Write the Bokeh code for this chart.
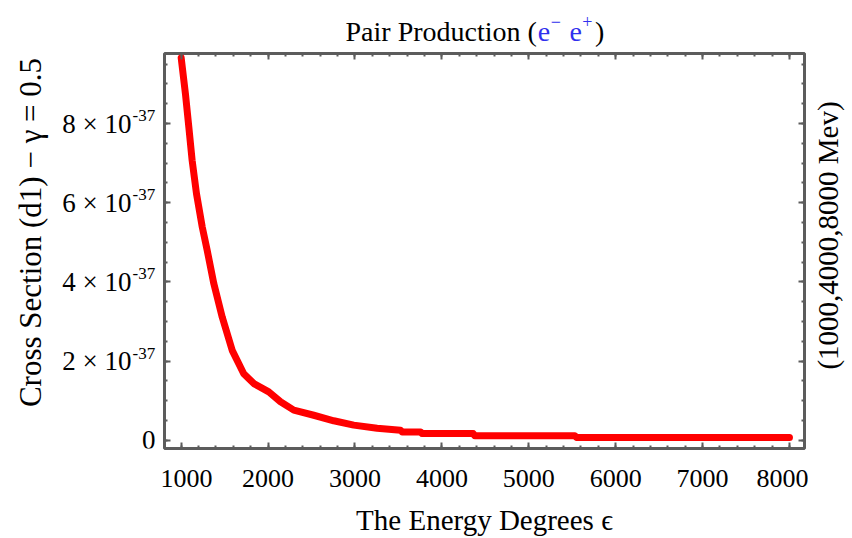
import math
from bokeh.plotting import figure
from bokeh.models import Range1d, FixedTicker, LinearAxis, Label
from bokeh.layouts import column, row
from bokeh.embed import file_html
from bokeh.resources import INLINE

# ---- data (cross section in units of 1e-37) ----
energy = [1000, 1049, 1088, 1126, 1176, 1242, 1299, 1375, 1472, 1587, 1720, 1836,
          2008, 2143, 2296, 2526, 2756, 2986, 3255, 3524, 3543, 3754, 3770,
          4360, 4380, 5530, 5550, 8000]
cross_section = [9.66, 8.75, 7.91, 7.07, 6.23, 5.39, 4.80, 3.96, 3.11, 2.27, 1.68, 1.43,
                 1.22, 0.97, 0.76, 0.63, 0.49, 0.38, 0.30, 0.25, 0.21, 0.21, 0.17,
                 0.17, 0.11, 0.11, 0.07, 0.07]

x_ticks = [1000, 2000, 3000, 4000, 5000, 6000, 7000, 8000]
x_minor = list(range(800, 8201, 200))
y_ticks = [0, 2, 4, 6, 8]
y_tick_mantissa = ["0", "2", "4", "6", "8"]
y_tick_exponent = "-37"
y_minor = [i * 0.5 for i in range(0, 20)]

title_main = "Pair Production ("
x_label = "The Energy Degrees \u03f5"
y_label = "Cross Section (d1) \u2212 \u03b3 = 0.5"
right_label = "(1000,4000,8000 Mev)"

FONT = "Liberation Serif"
XR = (808, 8173)
YR = (-0.21, 9.77)

TOTAL_W = 852
FRAME_TOP_PAGE = 53
FRAME_W, FRAME_H = 640, 395
LEFT_W = 160
MAIN_MBL, MAIN_MBR = 4, 4
MAIN_W = MAIN_MBL + FRAME_W + MAIN_MBR
RIGHT_W = TOTAL_W - LEFT_W - MAIN_W
FULL_H = 538
MB_BOTTOM = FULL_H - FRAME_TOP_PAGE - FRAME_H
TITLE_H = 50
MAIN_MBT = FRAME_TOP_PAGE - TITLE_H
MAIN_H = FULL_H - TITLE_H


def cy(page_y):
    return YR[1] - (page_y - FRAME_TOP_PAGE) / FRAME_H * (YR[1] - YR[0])


def blank_fig(w, h, xr, yr, mbt=0, mbb=0):
    f = figure(width=w, height=h, output_backend="svg", toolbar_location=None,
               tools="", x_range=xr, y_range=yr,
               x_axis_location=None, y_axis_location=None,
               min_border_left=0, min_border_right=0,
               min_border_top=mbt, min_border_bottom=mbb)
    f.grid.visible = False
    f.outline_line_color = None
    f.background_fill_color = "white"
    f.border_fill_color = "white"
    return f


def lab(fig, x, y, text, size, color="black", align="left", baseline="alphabetic",
        angle=0.0, y_offset=0):
    fig.add_layout(Label(x=x, y=y, text=text, text_font=FONT,
                         text_font_size=f"{size}px", text_color=color,
                         text_align=align, text_baseline=baseline,
                         angle=angle, y_offset=y_offset))


# ---- main plot ----
p = figure(width=MAIN_W, height=MAIN_H, output_backend="svg", toolbar_location=None,
           tools="", x_range=Range1d(*XR), y_range=Range1d(*YR),
           min_border_left=MAIN_MBL, min_border_right=MAIN_MBR,
           min_border_top=MAIN_MBT, min_border_bottom=MB_BOTTOM)
p.grid.visible = False
p.outline_line_color = "#5c5c5c"
p.outline_line_width = 3
p.background_fill_color = "white"
p.border_fill_color = "white"

p.line(energy, cross_section, line_color="#ff0000", line_width=7,
       line_join="round", line_cap="round")


def style_axis(ax, ticks, minor, show_labels):
    ax.ticker = FixedTicker(ticks=ticks, minor_ticks=minor)
    ax.axis_line_color = None
    ax.major_tick_in = 6
    ax.major_tick_out = 0
    ax.minor_tick_in = 3
    ax.minor_tick_out = 0
    ax.major_tick_line_color = "#5c5c5c"
    ax.minor_tick_line_color = "#5c5c5c"
    ax.major_tick_line_width = 2
    ax.minor_tick_line_width = 2
    if show_labels:
        ax.major_label_text_font = FONT
        ax.major_label_text_font_size = "26px"
        ax.major_label_text_color = "black"
        ax.major_label_standoff = 21
    else:
        ax.major_label_overrides = {t: "" for t in ticks}
        ax.major_label_text_font_size = "1px"
        ax.major_label_standoff = 0


style_axis(p.xaxis[0], x_ticks, x_minor, True)
p.xaxis[0].axis_label = x_label
p.xaxis[0].axis_label_text_font = FONT
p.xaxis[0].axis_label_text_font_size = "29px"
p.xaxis[0].axis_label_text_font_style = "normal"
p.xaxis[0].axis_label_text_color = "black"
p.xaxis[0].axis_label_standoff = 14
style_axis(p.yaxis[0], y_ticks, y_minor, False)
top = LinearAxis()
style_axis(top, x_ticks, x_minor, False)
p.add_layout(top, "above")
right = LinearAxis()
style_axis(right, y_ticks, y_minor, False)
p.add_layout(right, "right")

# ---- left strip: full-height column with y tick labels and y title ----
left = blank_fig(LEFT_W, FULL_H, Range1d(0, LEFT_W), p.y_range, FRAME_TOP_PAGE, MB_BOTTOM)
for t, m in zip(y_ticks, y_tick_mantissa):
    if m == "0":
        lab(left, 155, t, m, 27, align="right", baseline="middle")
    else:
        lab(left, 131, t, f"{m} \u00d7 10", 27, align="right", baseline="middle")
        lab(left, 132, t, y_tick_exponent, 17, align="left", baseline="middle", y_offset=8)
lab(left, 30, cy(232), y_label, 31, align="center", baseline="middle", angle=math.pi / 2)

# ---- right strip: energy list ----
rightf = blank_fig(RIGHT_W, FULL_H, Range1d(0, RIGHT_W), p.y_range, FRAME_TOP_PAGE, MB_BOTTOM)
lab(rightf, 19, cy(235), right_label, 29, align="center", baseline="middle", angle=math.pi / 2)

# ---- title strip above the plot (x measured from page left) ----
BLUE = "#3030ee"
TB = TITLE_H - 31
tf = blank_fig(MAIN_W, TITLE_H, Range1d(LEFT_W, LEFT_W + MAIN_W), Range1d(0, TITLE_H))
lab(tf, 537, TB, title_main, 28, align="right")
lab(tf, 538, TB, "e", 28, color=BLUE)
lab(tf, 551, TB, "\u2212", 18, color=BLUE, y_offset=10)
lab(tf, 570, TB, "e", 28, color=BLUE)
lab(tf, 583, TB, "+", 18, color=BLUE, y_offset=10)
lab(tf, 596, TB, ")", 28)

layout = row(left, column(tf, p), rightf)
open("out.html", "w").write(file_html(layout, INLINE))
